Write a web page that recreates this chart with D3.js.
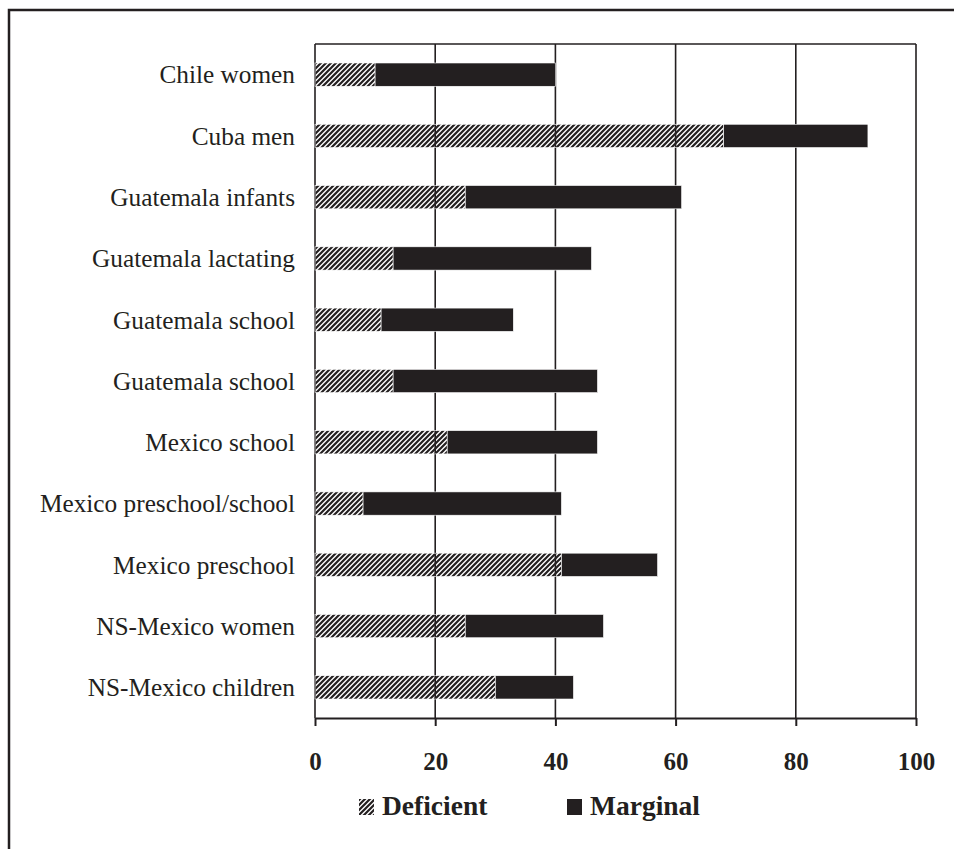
<!DOCTYPE html>
<html>
<head>
<meta charset="utf-8">
<script src="https://cdn.jsdelivr.net/npm/d3@7"></script>
<style>
  body { margin: 0; background: #fff; }
  svg { display: block; font-family: "Liberation Serif", "Times New Roman", serif; }
</style>
</head>
<body>
<div id="chart"></div>
<script>
// Stacked horizontal bars: percent deficient / marginal by population group

const groups = [
  "Chile women", "Cuba men", "Guatemala infants", "Guatemala lactating",
  "Guatemala school", "Guatemala school ", "Mexico school", "Mexico preschool/school",
  "Mexico preschool", "NS-Mexico women", "NS-Mexico children"
];
const deficient = [10, 68, 25, 13, 11, 13, 22, 8, 41, 25, 30];
const marginal  = [30, 24, 36, 33, 22, 34, 25, 33, 16, 23, 13];
const xTicks = [0, 20, 40, 60, 80, 100];
const seriesNames = ["Deficient", "Marginal"];

const width = 954, height = 849;
const margin = { top: 44, right: 38, bottom: 131, left: 315 };
const innerW = width - margin.left - margin.right;
const innerH = height - margin.top - margin.bottom;

const svg = d3.select("#chart").append("svg")
  .attr("width", width)
  .attr("height", height);

// hatch pattern for the deficient part
const defs = svg.append("defs");
defs.append("pattern")
  .attr("id", "hatch")
  .attr("patternUnits", "userSpaceOnUse")
  .attr("width", 5).attr("height", 5)
  .append("path")
  .attr("d", "M-1,1 L1,-1 M0,5 L5,0 M4,6 L6,4")
  .attr("stroke", "#231f20")
  .attr("stroke-width", 2.2);

// outer frame (top + left visible)
svg.append("path")
  .attr("d", `M9,${height} L9,10 L${width},10`)
  .attr("fill", "none")
  .attr("stroke", "#231f20")
  .attr("stroke-width", 2.5);

const g = svg.append("g").attr("transform", `translate(${margin.left},${margin.top})`);

const x = d3.scaleLinear().domain([0, 100]).range([0, innerW]);
const y = d3.scaleBand().domain(groups).range([0, innerH]).paddingInner(0.62).paddingOuter(0.31);

const rows = groups.map((name, i) => ({ name, def: deficient[i], mar: marginal[i] }));

// grid lines
g.selectAll(".grid")
  .data(xTicks.filter(t => t > 0))
  .join("line")
  .attr("x1", d => x(d)).attr("x2", d => x(d))
  .attr("y1", 0).attr("y2", innerH)
  .attr("stroke", "#231f20")
  .attr("stroke-width", 1.6);

// plot frame top
g.append("line")
  .attr("x1", 0).attr("x2", innerW)
  .attr("y1", 0).attr("y2", 0)
  .attr("stroke", "#231f20").attr("stroke-width", 1.5);

// left axis line
g.append("line")
  .attr("x1", 0).attr("x2", 0)
  .attr("y1", 0).attr("y2", innerH)
  .attr("stroke", "#231f20").attr("stroke-width", 1.6);

// bottom axis
const xAxis = g.append("g")
  .attr("transform", `translate(0,${innerH})`)
  .call(d3.axisBottom(x).tickValues(xTicks).tickSize(8).tickSizeOuter(0).tickPadding(26));
xAxis.select(".domain").attr("stroke", "#231f20").attr("stroke-width", 2);
xAxis.selectAll(".tick line").attr("stroke", "#231f20").attr("stroke-width", 2);
xAxis.selectAll("text")
  .attr("fill", "#231f20")
  .style("font-family", "'Liberation Serif', serif")
  .style("font-size", "25px")
  .style("font-weight", "bold");

// bars
g.selectAll(".def")
  .data(rows)
  .join("rect")
  .attr("x", x(0))
  .attr("y", d => y(d.name))
  .attr("width", d => x(d.def) - x(0))
  .attr("height", y.bandwidth())
  .attr("fill", "url(#hatch)")
  .attr("stroke", "#fff").attr("stroke-width", 0.6);

g.selectAll(".mar")
  .data(rows)
  .join("rect")
  .attr("x", d => x(d.def))
  .attr("y", d => y(d.name))
  .attr("width", d => x(d.def + d.mar) - x(d.def))
  .attr("height", y.bandwidth())
  .attr("fill", "#231f20")
  .attr("stroke", "#fff").attr("stroke-width", 0.6);

// category labels
g.selectAll(".cat")
  .data(rows)
  .join("text")
  .attr("x", -20)
  .attr("y", d => y(d.name) + y.bandwidth() / 2)
  .attr("dy", "0.35em")
  .attr("text-anchor", "end")
  .attr("fill", "#231f20")
  .style("font-size", "25.3px")
  .text(d => d.name.trim());

// legend
const legend = svg.append("g").attr("transform", "translate(359,815)");
const legItems = legend.selectAll("g")
  .data(seriesNames)
  .join("g")
  .attr("transform", (d, i) => `translate(${i * 208},0)`);
legItems.append("rect")
  .attr("x", 0).attr("y", -16)
  .attr("width", 15).attr("height", 16)
  .attr("fill", (d, i) => i === 0 ? "url(#hatch)" : "#231f20");
legItems.append("text")
  .attr("x", 23)
  .attr("y", 0)
  .attr("fill", "#231f20")
  .style("font-size", "27.5px")
  .style("font-weight", "bold")
  .text(d => d);
</script>
</body>
</html>
